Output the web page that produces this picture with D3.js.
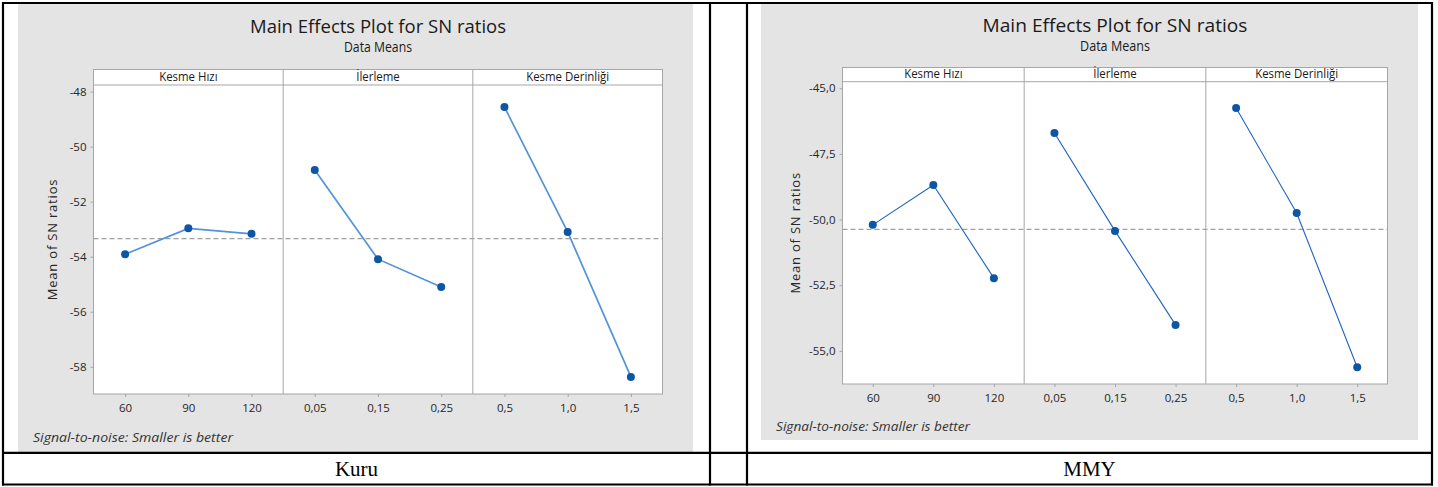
<!DOCTYPE html>
<html>
<head>
<meta charset="utf-8">
<script src="https://cdn.jsdelivr.net/npm/d3@7"></script>
<style>
  body { margin: 0; background: #fff; }
  text { font-family: "Open Sans", "Noto Sans", sans-serif; fill: #262626; }
</style>
</head>
<body>
<script>
// factors and their levels (same for both charts)
var factors = ['Kesme Hızı', 'İlerleme', 'Kesme Derinliği'];
var levels = [['60', '90', '120'], ['0,05', '0,15', '0,25'], ['0,5', '1,0', '1,5']];

// mean of SN ratios per factor level
var kuruMeans = [[-53.91, -52.97, -53.17], [-50.85, -54.09, -55.10], [-48.56, -53.10, -58.37]];
var mmyMeans = [[-50.20, -48.68, -52.23], [-46.70, -50.43, -54.01], [-45.75, -49.75, -55.62]];

var kuruTicks = [-48, -50, -52, -54, -56, -58];
var mmyTicks = [-45, -47.5, -50, -52.5, -55];

var cellLabels = ['Kuru', 'MMY'];

var width = 1438,
    height = 487;

var svg = d3.select('body')
  .append('svg')
  .attr('width', width)
  .attr('height', height);

var trLocale = d3.formatLocale({decimal: ',', thousands: '.', grouping: [3], currency: ['', ''], minus: '-'});

function drawChart(cfg) {
  var g = svg.append('g');

  g.append('rect')
    .attr('x', cfg.bg[0]).attr('y', cfg.bg[1])
    .attr('width', cfg.bg[2]).attr('height', cfg.bg[3])
    .attr('fill', '#e4e4e4');

  var cx = cfg.left + (cfg.right - cfg.left) / 2;
  g.append('text')
    .attr('x', cx).attr('y', cfg.titleY)
    .attr('text-anchor', 'middle')
    .attr('font-size', 19)
    .style('fill', '#1a1a1a')
    .attr('textLength', cfg.titleLen).attr('lengthAdjust', 'spacingAndGlyphs')
    .text('Main Effects Plot for SN ratios');
  g.append('text')
    .attr('x', cx).attr('y', cfg.titleY + 19)
    .attr('text-anchor', 'middle')
    .attr('font-size', 14)
    .style('fill', '#1a1a1a')
    .attr('textLength', cfg.subLen).attr('lengthAdjust', 'spacingAndGlyphs')
    .text('Data Means');

  var y = d3.scaleLinear()
    .domain(cfg.yDomain)
    .range([cfg.bottom, cfg.stripBottom]);

  var panel = d3.scaleBand()
    .domain(factors)
    .range([cfg.left, cfg.right]);

  var mean = d3.mean(d3.merge(cfg.means));

  // white plot + strip backgrounds
  g.append('rect')
    .attr('x', cfg.left).attr('y', cfg.stripTop)
    .attr('width', cfg.right - cfg.left).attr('height', cfg.bottom - cfg.stripTop)
    .attr('fill', '#fff').attr('stroke', '#a6a6a6');
  g.append('line')
    .attr('x1', cfg.left).attr('x2', cfg.right)
    .attr('y1', cfg.stripBottom).attr('y2', cfg.stripBottom)
    .attr('stroke', '#a6a6a6');

  // reference line (grand mean)
  g.append('line')
    .attr('x1', cfg.left).attr('x2', cfg.right)
    .attr('y1', y(mean)).attr('y2', y(mean))
    .attr('stroke', '#a0a0a0').attr('stroke-width', 1.3)
    .attr('stroke-dasharray', '5,3');

  factors.forEach(function(f, i) {
    var x0 = panel(f);
    if (i > 0) {
      g.append('line')
        .attr('x1', x0).attr('x2', x0)
        .attr('y1', cfg.stripTop).attr('y2', cfg.bottom)
        .attr('stroke', '#a6a6a6');
    }
    g.append('text')
      .attr('x', x0 + panel.bandwidth() / 2).attr('y', cfg.stripBottom - 3.5)
      .attr('text-anchor', 'middle')
      .attr('font-size', 13)
      .attr('transform', 'translate(' + (x0 + panel.bandwidth() / 2) * 0.12 + ',0) scale(0.88,1)')
      .style('fill', '#1a1a1a')
      .text(f);

    var x = d3.scalePoint()
      .domain(levels[i])
      .range([x0, x0 + panel.bandwidth()])
      .padding(0.5);

    var ax = g.append('g')
      .attr('transform', 'translate(0,' + cfg.bottom + ')')
      .call(d3.axisBottom(x).tickSize(3).tickPadding(7));
    ax.select('.domain').remove();
    ax.selectAll('line').attr('stroke', '#a6a6a6');
    ax.selectAll('text').attr('font-size', 11.5).attr('fill', '#262626')
      .style('font-family', '"Open Sans", sans-serif');

    var pts = levels[i].map(function(l, j) { return [x(l), y(cfg.means[i][j])]; });
    g.append('path')
      .datum(pts)
      .attr('d', d3.line())
      .attr('fill', 'none')
      .attr('stroke', cfg.lineColor)
      .attr('stroke-width', cfg.lineWidth);
    g.selectAll(null)
      .data(pts)
      .enter()
      .append('circle')
      .attr('cx', function(d) { return d[0]; })
      .attr('cy', function(d) { return d[1]; })
      .attr('r', 4)
      .attr('fill', '#0d56a6');
  });

  var ay = g.append('g')
    .attr('transform', 'translate(' + cfg.left + ',0)')
    .call(d3.axisLeft(y).tickValues(cfg.ticks).tickSize(3).tickPadding(4)
      .tickFormat(trLocale.format(cfg.fmt)));
  ay.select('.domain').remove();
  ay.selectAll('line').attr('stroke', '#a6a6a6');
  ay.selectAll('text').attr('font-size', 11.5).attr('fill', '#262626')
    .style('font-family', '"Open Sans", sans-serif');

  g.append('text')
    .attr('transform', 'translate(' + cfg.yLabelX + ',' + (cfg.stripBottom + cfg.bottom) / 2 + ') rotate(-90)')
    .attr('text-anchor', 'middle')
    .attr('font-size', 13)
    .attr('letter-spacing', 0.8)
    .text('Mean of SN ratios');

  g.append('text')
    .attr('x', cfg.noteX).attr('y', cfg.noteY)
    .attr('font-size', 13)
    .attr('font-style', 'italic')
    .attr('textLength', cfg.noteLen).attr('lengthAdjust', 'spacingAndGlyphs')
    .style('fill', '#333')
    .text('Signal-to-noise: Smaller is better');
}

drawChart({
  means: kuruMeans, ticks: kuruTicks, fmt: 'd',
  bg: [18, 4, 675, 448],
  left: 93.5, right: 662.5, stripTop: 69.5, stripBottom: 85, bottom: 394,
  yDomain: [-58.99, -47.76],
  titleY: 33, titleLen: 256, subLen: 68, noteLen: 200,
  yLabelX: 57, noteX: 33, noteY: 442,
  lineColor: '#5293da', lineWidth: 1.7
});

drawChart({
  means: mmyMeans, ticks: mmyTicks, fmt: '.1f',
  bg: [761, 4, 657, 436],
  left: 842.5, right: 1387.5, stripTop: 67.5, stripBottom: 81.7, bottom: 384,
  yDomain: [-56.26, -44.75],
  titleY: 32, titleLen: 265, subLen: 70, noteLen: 194,
  yLabelX: 800, noteX: 776, noteY: 431,
  lineColor: '#1c62c4', lineWidth: 1.1
});

// table grid
var table = svg.append('g').attr('stroke', '#000').attr('stroke-width', 2.2);
var cols = [3, 710, 747, 1432];
var rows = [3, 452.8, 484.5];
cols.forEach(function(c) {
  table.append('line').attr('x1', c).attr('x2', c).attr('y1', rows[0] - 1).attr('y2', rows[2] + 1);
});
rows.forEach(function(r) {
  table.append('line').attr('x1', cols[0] - 1).attr('x2', cols[3] + 1).attr('y1', r).attr('y2', r);
});

var labelX = [(cols[0] + cols[1]) / 2, (cols[2] + cols[3]) / 2];
svg.selectAll('.cell-label')
  .data(cellLabels)
  .enter()
  .append('text')
  .attr('class', 'cell-label')
  .attr('x', function(d, i) { return labelX[i]; })
  .attr('y', 476)
  .attr('text-anchor', 'middle')
  .attr('font-size', 21)
  .style('font-family', '"Liberation Serif", "Times New Roman", serif')
  .style('fill', '#000')
  .text(function(d) { return d; });
</script>
</body>
</html>
